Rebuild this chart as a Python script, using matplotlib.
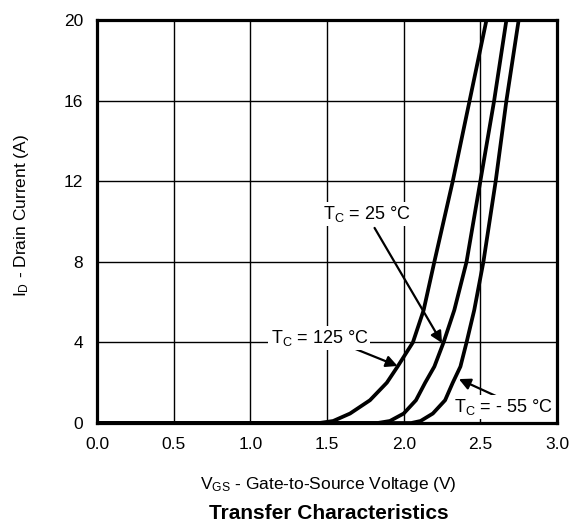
import matplotlib
matplotlib.use('Agg')
import matplotlib.pyplot as plt

plt.rcParams['font.family'] = 'Liberation Sans'
plt.rcParams['mathtext.fontset'] = 'custom'
plt.rcParams['mathtext.rm'] = 'Liberation Sans'
plt.rcParams['mathtext.it'] = 'Liberation Sans:italic'

# curves
vgs_125 = [0.0, 1.45, 1.54, 1.65, 1.78, 1.89, 1.96, 2.06, 2.13, 2.20, 2.32, 2.43, 2.54]
id_125 = [0.0, 0.0, 0.1, 0.47, 1.13, 2.0, 2.8, 4.0, 5.6, 8.0, 12.0, 16.0, 20.0]

vgs_25 = [0.0, 1.83, 1.91, 2.0, 2.08, 2.14, 2.20, 2.26, 2.33, 2.41, 2.50, 2.59, 2.67]
id_25 = [0.0, 0.0, 0.1, 0.47, 1.13, 2.0, 2.8, 4.0, 5.6, 8.0, 12.0, 16.0, 20.0]

vgs_m55 = [0.0, 2.05, 2.11, 2.19, 2.27, 2.32, 2.37, 2.41, 2.46, 2.52, 2.60, 2.67, 2.75]
id_m55 = [0.0, 0.0, 0.1, 0.47, 1.13, 2.0, 2.8, 4.0, 5.6, 8.0, 12.0, 16.0, 20.0]

xticks = [0.0, 0.5, 1.0, 1.5, 2.0, 2.5, 3.0]
yticks = [0, 4, 8, 12, 16, 20]

fig = plt.figure(figsize=(5.71, 5.23), dpi=100)
ax = fig.add_axes([0.170, 0.1912, 0.8055, 0.7706])

for v, i in [(vgs_125, id_125), (vgs_25, id_25), (vgs_m55, id_m55)]:
    ax.plot(v, i, color='black', lw=2.7, solid_joinstyle='round', zorder=3)

ax.set_xlim(0, 3.0)
ax.set_ylim(0, 20)
ax.set_xticks(xticks)
ax.set_xticklabels(['%.1f' % x for x in xticks])
ax.set_yticks(yticks)
ax.grid(True, color='black', lw=1.0)
ax.tick_params(length=0, labelsize=12.5, pad=10)
for s in ax.spines.values():
    s.set_linewidth(2.3)

ax.set_xlabel(r'$\mathregular{V_{GS}}$ - Gate-to-Source Voltage (V)', fontsize=12.5)
ax.xaxis.set_label_coords(0.502, -0.128)
ax.set_ylabel(r'$\mathregular{I_D}$ - Drain Current (A)', fontsize=12.5)
ax.yaxis.set_label_coords(-0.143, 0.515)
fig.text(0.575, 0.018, 'Transfer Characteristics', ha='center', va='center',
         fontsize=15, fontweight='bold')

box = dict(facecolor='white', edgecolor='none', pad=1.5)
arrow = dict(arrowstyle='-|>', color='black', lw=1.6, mutation_scale=17, shrinkA=0, shrinkB=0)

ax.annotate('', xy=(2.25, 3.97), xytext=(1.81, 9.68), arrowprops=arrow, zorder=4)
ax.text(1.76, 10.37, r'$\mathregular{T_C}$ = 25 °C', ha='center', va='center', fontsize=13, bbox=box, zorder=5)

ax.annotate('', xy=(1.96, 2.83), xytext=(1.67, 3.72), arrowprops=arrow, zorder=4)
ax.text(1.45, 4.22, r'$\mathregular{T_C}$ = 125 °C', ha='center', va='center', fontsize=13, bbox=box, zorder=5)

ax.annotate('', xy=(2.36, 2.18), xytext=(2.63, 1.24), arrowprops=arrow, zorder=4)
ax.text(2.65, 0.79, r'$\mathregular{T_C}$ = - 55 °C', ha='center', va='center', fontsize=13, bbox=box, zorder=5)

fig.savefig('out.png', dpi=100)
